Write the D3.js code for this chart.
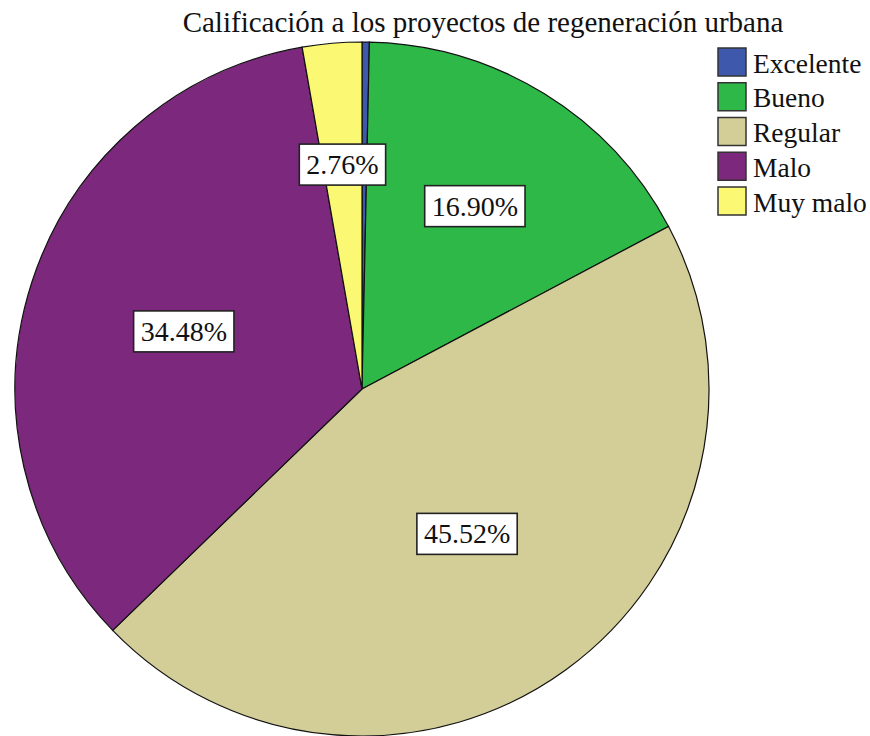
<!DOCTYPE html>
<html>
<head>
<meta charset="utf-8">
<script src="https://cdn.jsdelivr.net/npm/d3@7"></script>
<style>
  body { margin: 0; background: white; }
</style>
</head>
<body>
<svg id="chart" width="870" height="736"></svg>
<script>
// chart values
var title = "Calificación a los proyectos de regeneración urbana";
var categories = ["Excelente", "Bueno", "Regular", "Malo", "Muy malo"];
var percents = [0.34, 16.90, 45.52, 34.48, 2.76];
var labels = ["", "16.90%", "45.52%", "34.48%", "2.76%"];
var colors = ["#3e58ac", "#2eb848", "#d3ce97", "#7c287d", "#fbf873"];

// where SPSS dropped each label, as a fraction of the radius
var label_pos = [0, 0.62, 0.515, 0.54, 0.65];

var font = "Liberation Serif";
var cx = 362, cy = 389, radius = 347;

var svg = d3.select("#chart");

svg.append("text")
    .attr("x", 483).attr("y", 32)
    .attr("text-anchor", "middle")
    .attr("font-family", font)
    .attr("font-size", 29)
    .attr("fill", "#111")
    .text(title);

var pie = d3.pie().sort(null).value(function(d) { return d; });
var arcs = pie(percents);
var arc = d3.arc().innerRadius(0).outerRadius(radius);

var g = svg.append("g").attr("transform", "translate(" + cx + "," + cy + ")");

g.selectAll("path.slice")
    .data(arcs)
    .enter().append("path")
    .attr("class", "slice")
    .attr("d", arc)
    .attr("fill", function(d, i) { return colors[i]; })
    .attr("stroke", "#111")
    .attr("stroke-width", 1.2);

// labels in white boxes
var lab = g.selectAll("g.lab")
    .data(arcs.filter(function(d, i) { return labels[i] !== ""; }))
    .enter().append("g")
    .attr("class", "lab")
    .attr("transform", function(d) {
        var r = radius * label_pos[d.index];
        var c = d3.arc().innerRadius(r).outerRadius(r).centroid(d);
        return "translate(" + c[0] + "," + c[1] + ")";
    });

lab.append("text")
    .attr("text-anchor", "middle")
    .attr("dy", "0.35em")
    .attr("font-family", font)
    .attr("font-size", 28)
    .attr("fill", "#111")
    .text(function(d) { return labels[d.index]; });

lab.each(function() {
    var t = d3.select(this).select("text");
    var bb = t.node().getBBox();
    d3.select(this).insert("rect", "text")
        .attr("x", bb.x - 7).attr("y", bb.y - 5)
        .attr("width", bb.width + 14).attr("height", bb.height + 10)
        .attr("fill", "white")
        .attr("stroke", "#222")
        .attr("stroke-width", 1.6);
});

// legend
var legend = svg.append("g").attr("transform", "translate(718,48)");
var item = legend.selectAll("g")
    .data(categories)
    .enter().append("g")
    .attr("transform", function(d, i) { return "translate(0," + (i * 34.75) + ")"; });

item.append("rect")
    .attr("width", 28).attr("height", 28)
    .attr("fill", function(d, i) { return colors[i]; })
    .attr("stroke", "#333")
    .attr("stroke-width", 1.5);

item.append("text")
    .attr("x", 35).attr("y", 15)
    .attr("dy", "0.35em")
    .attr("font-family", font)
    .attr("font-size", 27.5)
    .attr("fill", "#111")
    .text(function(d) { return d; });
</script>
</body>
</html>
